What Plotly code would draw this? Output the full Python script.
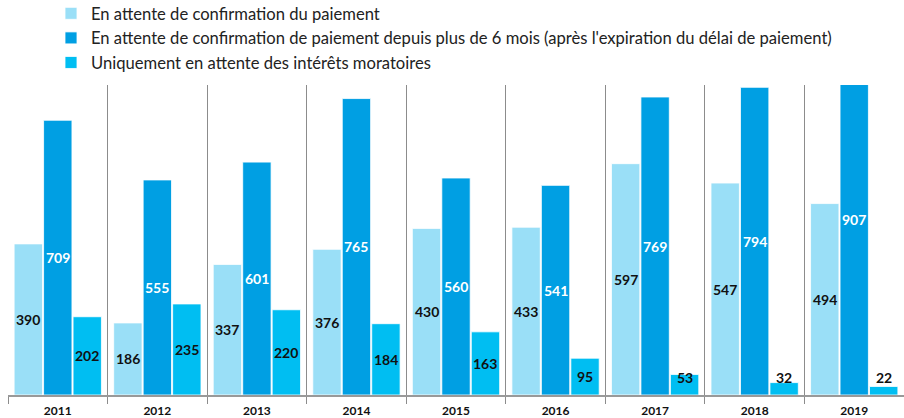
import plotly.graph_objects as go

years = ["2011", "2012", "2013", "2014", "2015", "2016", "2017", "2018", "2019"]
names = [
    "En attente de confirmation du paiement",
    "En attente de confirmation de paiement depuis plus de 6 mois (après l'expiration du délai de paiement)",
    "Uniquement en attente des intérêts moratoires",
]
attente = [390, 186, 337, 376, 430, 433, 597, 547, 494]
attente_6mois = [709, 555, 601, 765, 560, 541, 769, 794, 907]
interets = [202, 235, 220, 184, 163, 95, 53, 32, 22]

series = [attente, attente_6mois, interets]
colors = ["#9ADFF7", "#009FE3", "#00BEF2"]
label_colors = ["#111111", "#FFFFFF", "#111111"]
offsets = [-0.296, 0.0, 0.296]
bar_w = 0.285

idx = list(range(len(years)))
fig = go.Figure()
annotations = []
for s, name, col, lc, off in zip(series, names, colors, label_colors, offsets):
    xs = [i + off for i in idx]
    fig.add_trace(go.Bar(
        x=xs, y=s, name=name, width=bar_w,
        marker=dict(color=col, line=dict(color="white", width=0.8)),
        hoverinfo="y",
    ))
    for x, v in zip(xs, s):
        annotations.append(dict(
            x=x, y=max(v / 2, 44), xref="x", yref="y", text=str(v),
            showarrow=False, font=dict(family="Lato", size=14, color=lc, weight="bold"),
        ))

fig.update_layout(
    width=904, height=418,
    margin=dict(l=8, r=0, t=85, b=23, autoexpand=False),
    paper_bgcolor="white", plot_bgcolor="white",
    barmode="overlay",
    showlegend=True,
    legend=dict(
        x=0.048, y=1.287, xanchor="left", yanchor="top", xref="paper", yref="paper",
        orientation="v", font=dict(family="Lato", size=16.6, color="#222222"),
        traceorder="normal", bgcolor="rgba(0,0,0,0)",
    ),
    annotations=annotations,
    xaxis=dict(
        range=[-0.5, 8.5], tickmode="array", tickvals=idx, ticktext=years,
        showgrid=False, ticks="", zeroline=False,
        showline=True, linecolor="#999999", linewidth=1.5,
        ticklabelstandoff=4,
        tickfont=dict(family="Lato", size=12, color="#111111", weight="bold"),
        minor=dict(tickmode="linear", tick0=-0.5, dtick=1, showgrid=True,
                   gridcolor="#8C8C8C", gridwidth=1.2, ticks="outside",
                   ticklen=7, tickcolor="#8C8C8C", tickwidth=1.2),
        fixedrange=True,
    ),
    yaxis=dict(range=[0, 800], showgrid=False, showticklabels=False,
               zeroline=False, showline=False, fixedrange=True),
)
fig.write_html("out.html", config={"displayModeBar": False},
               post_script="document.body.style.margin='0';")
